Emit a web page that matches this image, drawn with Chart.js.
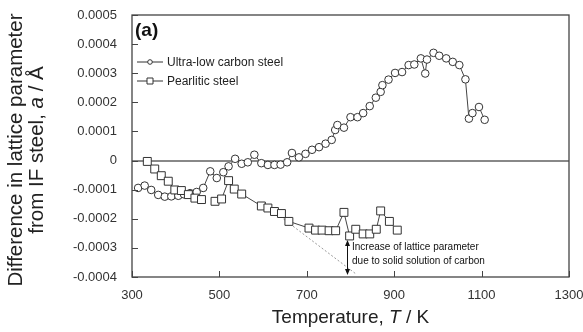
<!DOCTYPE html>
<html>
<head>
<meta charset="utf-8">
<script src="https://cdn.jsdelivr.net/npm/chart.js@4.4.1/dist/chart.umd.min.js"></script>
<style>
  html, body { margin: 0; padding: 0; background: #fff; }
  canvas { display: block; }
</style>
</head>
<body>
<canvas id="chart" width="583" height="332"></canvas>
<script>
// Ultra-low carbon steel
const ulcTemp = [314, 329, 344, 360, 375, 390, 406, 419, 433, 448, 463, 479, 494, 509, 521, 536, 551, 565, 580, 596,
  611, 626, 640, 655, 666, 682, 697, 712, 728, 743, 757, 765, 770, 785, 800, 816, 829, 844, 858, 869,
  873, 887, 902, 918, 933, 946, 961, 971, 975, 990, 1003, 1019, 1034, 1049, 1063, 1071, 1079, 1094, 1107];
const ulcDiff = [-0.000094, -0.000086, -0.000101, -0.000118, -0.000124, -0.000123, -0.000121, -0.000116, -0.000112, -0.000108,
  -0.000094, -0.000037, -0.000060, -0.000040, -0.000020, 0.000006, -0.000011, -0.000006, 0.000020, -0.000009,
  -0.000015, -0.000015, -0.000014, -0.000006, 0.000026, 0.000011, 0.000023, 0.000037, 0.000046, 0.000058,
  0.000071, 0.000105, 0.000122, 0.000113, 0.000149, 0.000149, 0.000163, 0.000187, 0.000216, 0.000236,
  0.000259, 0.000278, 0.000301, 0.000304, 0.000328, 0.000330, 0.000351, 0.000299, 0.000347, 0.000370,
  0.000360, 0.000351, 0.000339, 0.000328, 0.000279, 0.000144, 0.000163, 0.000184, 0.000140];

// Pearlitic steel (null = break in the line)
const pearTemp = [335, 352, 367, 383, 398, 413, 429, 444, 459, 475, 490, 505, 521, 534, 551, 596, 611, 626, 642, 659,
  705, 720, 735, 751, 766, 785, 798, 812, 829, 844, 859, 869, 889, 907];
const pearDiff = [-0.000003, -0.000029, -0.000052, -0.000071, -0.000101, -0.000103, -0.000117, -0.000129, -0.000134, null,
  -0.000140, -0.000132, -0.000069, -0.000098, -0.000115, -0.000156, -0.000163, -0.000175, -0.000182, -0.000209,
  -0.000232, -0.000239, -0.000239, -0.000241, -0.000241, -0.000178, -0.000259, -0.000236, -0.000252, -0.000252,
  -0.000236, -0.000173, -0.000209, -0.000239];

// extrapolated trend (dotted)
const trendTemp = [632, 812];
const trendDiff = [-0.000184, -0.000389];

const seriesNames = ['Ultra-low carbon steel', 'Pearlitic steel'];
const noteLines = ['Increase of lattice parameter', 'due to solid solution of carbon'];
const arrowTemp = 792;
const arrowFrom = -0.000273;
const arrowTo = -0.000393;

const FONT = '"Liberation Sans", Arial, sans-serif';
const zip = (xs, ys) => xs.map((x, i) => ({ x: x, y: ys[i] }));

// draw text made of parts with different styles, centred on (x, y)
function richText(ctx, parts, x, y, rot) {
  ctx.save();
  ctx.translate(x, y);
  ctx.rotate(rot || 0);
  ctx.textBaseline = 'middle';
  ctx.textAlign = 'left';
  let total = 0;
  parts.forEach(p => { ctx.font = p[1]; total += ctx.measureText(p[0]).width; });
  let cx = -total / 2;
  parts.forEach(p => {
    ctx.font = p[1];
    ctx.fillText(p[0], cx, 0);
    cx += ctx.measureText(p[0]).width;
  });
  ctx.restore();
}

const decor = {
  id: 'decor',
  afterDraw(chart) {
    const ctx = chart.ctx;
    const a = chart.chartArea;
    const xs = chart.scales.x, ys = chart.scales.y;
    ctx.save();

    // frame
    ctx.strokeStyle = '#444';
    ctx.lineWidth = 1.3;
    ctx.strokeRect(a.left, a.top, a.right - a.left, a.bottom - a.top);

    // inward ticks
    ctx.lineWidth = 1;
    ctx.beginPath();
    xs.ticks.forEach(t => {
      const px = Math.round(xs.getPixelForValue(t.value)) + 0.5;
      ctx.moveTo(px, a.bottom);
      ctx.lineTo(px, a.bottom - 6);
    });
    ys.ticks.forEach(t => {
      const py = Math.round(ys.getPixelForValue(t.value)) + 0.5;
      ctx.moveTo(a.left, py);
      ctx.lineTo(a.left + 6, py);
    });
    ctx.stroke();

    // panel label
    ctx.fillStyle = '#111';
    ctx.font = 'bold 19px ' + FONT;
    ctx.textBaseline = 'middle';
    ctx.textAlign = 'left';
    ctx.fillText('(a)', a.left + 3, a.top + 16);

    // legend: line sample with marker
    chart.data.datasets.slice(0, 2).forEach((ds, i) => {
      const ly = a.top + 47 + i * 19;
      const lx = a.left + 5;
      ctx.strokeStyle = '#333';
      ctx.lineWidth = 1;
      ctx.beginPath();
      ctx.moveTo(lx, ly);
      ctx.lineTo(lx + 26, ly);
      ctx.stroke();
      ctx.fillStyle = '#fff';
      ctx.beginPath();
      if (ds.pointStyle === 'rect') {
        ctx.rect(lx + 13 - 3, ly - 3, 6, 6);
      } else {
        ctx.arc(lx + 13, ly, 2.3, 0, Math.PI * 2);
      }
      ctx.fill();
      ctx.stroke();
      ctx.fillStyle = '#222';
      ctx.font = '12px ' + FONT;
      ctx.textBaseline = 'middle';
      ctx.fillText(ds.label, lx + 30, ly + 1);
    });

    // double arrow
    const ax = Math.round(xs.getPixelForValue(arrowTemp)) + 0.5;
    const ay1 = ys.getPixelForValue(arrowFrom);
    const ay2 = ys.getPixelForValue(arrowTo);
    ctx.strokeStyle = '#111';
    ctx.fillStyle = '#111';
    ctx.beginPath();
    ctx.moveTo(ax, ay1 + 3);
    ctx.lineTo(ax, ay2 - 3);
    ctx.stroke();
    ctx.beginPath();
    ctx.moveTo(ax, ay1); ctx.lineTo(ax - 2.5, ay1 + 6); ctx.lineTo(ax + 2.5, ay1 + 6); ctx.closePath();
    ctx.moveTo(ax, ay2); ctx.lineTo(ax - 2.5, ay2 - 6); ctx.lineTo(ax + 2.5, ay2 - 6); ctx.closePath();
    ctx.fill();

    // note
    ctx.font = '10px ' + FONT;
    ctx.fillStyle = '#111';
    ctx.textAlign = 'left';
    ctx.textBaseline = 'middle';
    const nx = xs.getPixelForValue(arrowTemp) + 5;
    noteLines.forEach((t, i) => {
      ctx.fillText(t, nx, ys.getPixelForValue(-0.000299) + i * 13.5);
    });

    // axis titles
    ctx.fillStyle = '#222';
    const tf = '19px ' + FONT, ti = 'italic 19px ' + FONT;
    richText(ctx, [['Temperature, ', tf], ['T', ti], [' / K', tf]], (a.left + a.right) / 2, 318, 0);
    const yf = '20.5px ' + FONT, yi = 'italic 20.5px ' + FONT;
    const cy = (a.top + a.bottom) / 2 + 4;
    richText(ctx, [['Difference in lattice parameter', yf]], 16, cy, -Math.PI / 2);
    richText(ctx, [['from IF steel, ', yf], ['a', yi], [' / Å', yf]], 37, cy, -Math.PI / 2);

    ctx.restore();
  }
};

new Chart(document.getElementById('chart'), {
  type: 'line',
  data: {
    datasets: [
      {
        label: seriesNames[0],
        data: zip(ulcTemp, ulcDiff),
        borderColor: '#444',
        borderWidth: 1,
        pointStyle: 'circle',
        pointRadius: 3.8,
        pointBackgroundColor: '#fff',
        pointBorderColor: '#333',
        pointBorderWidth: 1,
        tension: 0,
        order: 1
      },
      {
        label: seriesNames[1],
        data: zip(pearTemp, pearDiff),
        borderColor: '#444',
        borderWidth: 1,
        pointStyle: 'rect',
        pointRadius: 5.6,
        pointBackgroundColor: '#fff',
        pointBorderColor: '#333',
        pointBorderWidth: 1,
        spanGaps: false,
        tension: 0,
        order: 0
      },
      {
        label: 'trend',
        data: zip(trendTemp, trendDiff),
        borderColor: '#999',
        borderWidth: 1,
        borderDash: [2, 2],
        pointRadius: 0,
        order: 2
      }
    ]
  },
  options: {
    responsive: false,
    animation: false,
    devicePixelRatio: 1,
    layout: { padding: { left: 0, top: 15, right: 14, bottom: 0 } },
    plugins: {
      legend: { display: false },
      tooltip: { enabled: false }
    },
    scales: {
      x: {
        type: 'linear',
        min: 300,
        max: 1300,
        afterFit: s => { s.height = 55; s.paddingLeft = 0; s.paddingRight = 0; },
        border: { display: false },
        grid: { display: false, drawTicks: false },
        ticks: {
          stepSize: 200,
          padding: 11,
          color: '#333',
          font: { family: FONT, size: 13 },
          callback: v => String(v)
        }
      },
      y: {
        min: -0.0004,
        max: 0.0005,
        afterFit: s => { s.width = 132; s.paddingTop = 0; s.paddingBottom = 0; },
        border: { display: false },
        grid: {
          drawTicks: false,
          lineWidth: 2,
          color: c => (Math.abs(c.tick.value) < 1e-10 ? '#888' : 'transparent')
        },
        ticks: {
          stepSize: 0.0001,
          padding: 15,
          color: '#333',
          font: { family: FONT, size: 13 },
          callback: v => (Math.abs(v) < 1e-10 ? '0' : v.toFixed(4))
        }
      }
    }
  },
  plugins: [decor]
});
</script>
</body>
</html>
